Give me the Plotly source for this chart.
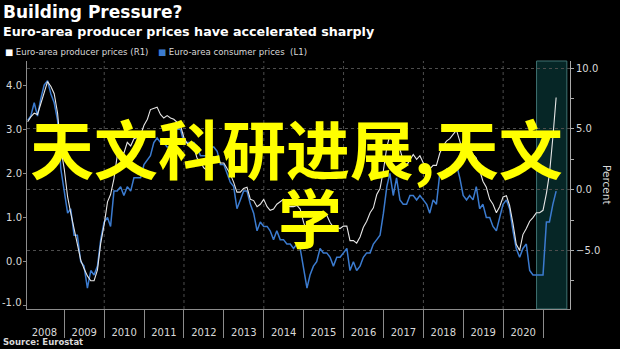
import pandas as pd
import plotly.graph_objects as go

# ---------------- data ----------------
months = pd.date_range("2008-01-31", "2021-04-30", freq="ME")

consumer_prices = [  # Euro-area consumer prices, % y/y (left axis)
    3.2, 3.3, 3.6, 3.3, 3.7, 4.0, 4.1, 3.8, 3.6, 3.2, 2.1, 1.6,
    1.1, 1.2, 0.6, 0.6, 0.0, -0.1, -0.6, -0.2, -0.3, -0.1, 0.5, 0.9,
    1.0, 0.8, 1.6, 1.6, 1.7, 1.5, 1.7, 1.6, 1.9, 1.9, 1.9, 2.2,
    2.3, 2.4, 2.7, 2.8, 2.7, 2.7, 2.6, 2.6, 3.0, 3.0, 3.0, 2.7,
    2.7, 2.7, 2.7, 2.6, 2.4, 2.4, 2.4, 2.6, 2.6, 2.5, 2.2, 2.2,
    2.0, 1.8, 1.7, 1.2, 1.4, 1.6, 1.6, 1.3, 1.1, 0.7, 0.9, 0.8,
    0.8, 0.7, 0.5, 0.7, 0.5, 0.5, 0.4, 0.4, 0.3, 0.4, 0.3, -0.2,
    -0.6, -0.3, -0.1, 0.0, 0.3, 0.2, 0.2, 0.1, -0.1, 0.1, 0.1, 0.2,
    0.3, -0.2, 0.0, -0.2, -0.1, 0.1, 0.2, 0.2, 0.4, 0.5, 0.6, 1.1,
    1.7, 2.0, 1.5, 1.9, 1.4, 1.3, 1.3, 1.5, 1.5, 1.4, 1.5, 1.4,
    1.3, 1.1, 1.4, 1.3, 2.0, 2.0, 2.1, 2.0, 2.1, 2.2, 1.9, 1.5,
    1.4, 1.5, 1.4, 1.7, 1.2, 1.3, 1.0, 1.0, 0.8, 0.7, 1.0, 1.3,
    1.4, 1.2, 0.7, 0.3, 0.1, 0.3, 0.4, -0.2, -0.3, -0.3, -0.3, -0.3,
    0.9, 0.9, 1.3, 1.6,
]

producer_prices = [  # Euro-area producer prices, % y/y (right axis)
    5.6, 6.0, 6.3, 6.2, 7.1, 8.0, 8.9, 8.5, 7.9, 6.3, 3.4, 1.7,
    -0.6, -1.9, -3.2, -4.6, -5.8, -6.5, -7.1, -7.5, -7.5, -6.6, -4.4, -2.9,
    -1.0, -0.4, 0.9, 2.8, 3.1, 3.0, 3.9, 3.6, 4.2, 4.3, 4.5, 5.3,
    5.8, 6.6, 6.7, 6.8, 6.2, 5.9, 6.1, 5.9, 5.8, 5.5, 5.3, 4.3,
    3.8, 3.6, 3.5, 2.6, 2.3, 1.8, 1.6, 2.7, 2.7, 2.6, 2.2, 2.2,
    1.7, 1.3, 0.6, -0.2, -0.2, 0.1, 0.2, -0.8, -0.9, -1.4, -1.2, -0.8,
    -1.4, -1.7, -1.6, -1.2, -1.0, -0.8, -1.3, -1.4, -1.4, -1.3, -1.6, -2.7,
    -3.5, -2.8, -2.3, -2.2, -2.1, -2.2, -2.1, -2.7, -3.1, -3.1, -3.2, -3.0,
    -3.0, -4.2, -4.2, -4.4, -3.9, -3.1, -2.6, -1.9, -1.5, -0.4, 0.1, 1.6,
    3.5, 4.5, 3.9, 4.3, 3.3, 2.4, 2.0, 2.5, 2.9, 2.5, 2.8, 2.2,
    1.6, 1.7, 2.0, 2.0, 3.0, 3.6, 4.0, 4.2, 4.5, 4.9, 4.0, 3.0,
    2.9, 3.0, 2.9, 2.6, 1.6, 0.7, 0.2, -0.8, -1.2, -1.9, -1.4, -0.6,
    -0.5, -1.3, -2.8, -4.5, -5.0, -3.7, -3.2, -2.6, -2.3, -1.9, -1.9, -1.7,
    -0.3, 1.3, 4.3, 7.6,
]

year_labels = [str(y) for y in range(2008, 2021)]
year_mids = [f"{y}-07-02" for y in range(2008, 2021)]
even_years = [f"{y}-01-01" for y in range(2010, 2021, 2)]
left_ticks = [-1.0, 0.0, 1.0, 2.0, 3.0, 4.0]
right_ticks = [-5.0, 0.0, 5.0, 10.0]
shade_period = ["2020-11-02", "2021-08-06"]
x_range = ["2008-01-25", "2021-09-04"]
left_range = [-1.071, 4.546]

# ---------------- geometry helpers ----------------
W, H = 620, 349
L, R, T, B = 27, 570, 61, 309


def px(x):
    return (x - L) / (R - L)


def py(y):
    return (B - y) / (B - T)


GREY = "#8c8c8c"
TXT = "#d9d9d9"
FONT = "DejaVu Sans"
BLUE = "#3b7bcf"

fig = go.Figure()
fig.add_trace(go.Scatter(
    x=months, y=consumer_prices, mode="lines", yaxis="y",
    line=dict(color=BLUE, width=1.5), showlegend=False,
))
fig.add_trace(go.Scatter(
    x=months, y=producer_prices, mode="lines", yaxis="y2",
    line=dict(color="#e6e6e6", width=1.1), showlegend=False,
))

fig.add_shape(
    type="rect", xref="x", yref="paper",
    x0=shade_period[0], x1=shade_period[1], y0=0, y1=1,
    fillcolor="#062626", line=dict(color="#3f7373", width=1), layer="below",
)
for d in even_years:
    fig.add_shape(
        type="line", xref="x", yref="paper", x0=d, x1=d, y0=0, y1=1,
        line=dict(color="#4d4d4d", width=1, dash="dot"), layer="below",
    )

# left tick labels: the bottom one is nudged up inside the frame, as in the source chart
left_text = [f"{v:.1f}" for v in left_ticks]
left_text_axis = ["" if v == min(left_ticks) else t for v, t in zip(left_ticks, left_text)]

annotations = [
    dict(text="<b>Building Pressure?</b>", x=px(1), y=py(12), font=dict(size=17, color="white")),
    dict(text="<b>Euro-area producer prices have accelerated sharply</b>", x=px(1), y=py(31),
         font=dict(size=12.7, color="white")),
    dict(text='<span style="color:#ffffff">■</span> Euro-area producer prices (R1)',
         x=px(3), y=py(52), font=dict(size=8.6, color=TXT)),
    dict(text=f'<span style="color:{BLUE}">■</span> Euro-area consumer prices  (L1)',
         x=px(156), y=py(52), font=dict(size=8.6, color=TXT)),
    dict(text="<b>Source: Eurostat</b>", x=px(1), y=py(342), font=dict(size=8.5, color=TXT)),
]
for a in annotations:
    a.update(xref="paper", yref="paper", xanchor="left", yanchor="middle", showarrow=False)

annotations.append(dict(
    text=left_text[0], xref="paper", yref="paper", x=px(24), y=py(302),
    xanchor="right", yanchor="middle", showarrow=False, font=dict(size=10, color=TXT),
))
annotations.append(dict(
    text="Percent", xref="paper", yref="paper", x=px(607), y=py(185),
    textangle=90, showarrow=False, font=dict(size=10.5, color=TXT),
    xanchor="center", yanchor="middle",
))
annotations.append(dict(
    text="天文科研进展,天文", xref="paper", yref="paper", x=px(296), y=py(146),
    showarrow=False, xanchor="center", yanchor="middle",
    font=dict(size=64, color="#ffff00", family="Noto Sans CJK SC", weight=700),
))
annotations.append(dict(
    text="学", xref="paper", yref="paper", x=px(310), y=py(215),
    showarrow=False, xanchor="center", yanchor="middle",
    font=dict(size=64, color="#ffff00", family="Noto Sans CJK SC", weight=700),
))

fig.update_layout(
    width=W, height=H,
    margin=dict(l=L, r=W - R, t=T, b=H - B, autoexpand=False),
    paper_bgcolor="black", plot_bgcolor="black",
    font=dict(family=FONT, color=TXT, size=10),
    annotations=annotations,
    xaxis=dict(
        type="date", range=x_range,
        tickvals=year_mids, ticktext=year_labels, ticks="",
        ticklabelstandoff=14, tickfont=dict(size=10, color=TXT),
        minor=dict(dtick="M12", tick0="2008-01-01", ticks="outside", ticklen=28,
                   tickcolor=GREY, tickwidth=1, showgrid=False),
        showline=True, linecolor=GREY, linewidth=1, showgrid=False, zeroline=False,
    ),
    yaxis=dict(
        range=left_range, tickvals=left_ticks, ticktext=left_text_axis,
        ticks="outside", ticklen=3, tickcolor=GREY, ticklabelstandoff=-1,
        showline=True, linecolor=GREY, linewidth=1, showgrid=False, zeroline=False,
        tickfont=dict(size=10, color=TXT),
    ),
    yaxis2=dict(
        range=[-9.83, 10.6], overlaying="y", side="right", anchor="x",
        tickvals=right_ticks, tickformat=".1f",
        ticks="outside", ticklen=3, tickcolor="#aaaaaa",
        minor=dict(dtick=2.5, tick0=0, ticks="outside", ticklen=3, tickcolor="#aaaaaa"),
        showline=True, linecolor="#aaaaaa", linewidth=1,
        showgrid=True, gridcolor="#4d4d4d", griddash="dot", gridwidth=1, zeroline=False,
        tickfont=dict(size=10, color=TXT),
    ),
)

fig.write_html("out.html")
